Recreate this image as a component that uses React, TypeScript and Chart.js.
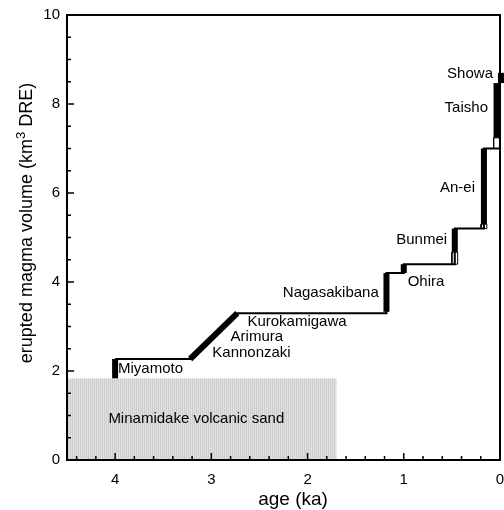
import React, { useEffect, useRef } from 'react';
import { Chart, registerables } from 'chart.js';

Chart.register(...registerables);

// ---- data ----
// black eruption bars (identified eruptions)
const ERUPTION_NAMES = ['Miyamoto', 'Nagasakibana', 'Ohira', 'Bunmei', 'An-ei', 'Taisho', 'Showa'];
const ERUPTION_AGES = [4.0, 1.18, 1.0, 0.47, 0.167, 0.036, -0.01];
const ERUPTION_BOTTOMS = [1.83, 3.33, 4.2, 4.67, 5.3, 7.24, 8.47];
const ERUPTION_TOPS = [2.27, 4.2, 4.4, 5.2, 7.0, 8.47, 8.7];

// open (white) parts of eruption bars
const OPEN_AGES = [0.47, 0.167, 0.036];
const OPEN_BOTTOMS = [4.4, 5.2, 7.0];
const OPEN_TOPS = [4.67, 5.3, 7.24];

// Kannonzaki - Arimura - Kurokamigawa ramp
const RAMP_AGES = [3.22, 2.73];
const RAMP_VOLUMES = [2.27, 3.3];

// cumulative step curve
const STEP_AGES = [4.0, 3.22, 2.73, 1.18, 1.18, 1.0, 1.0, 0.47, 0.47, 0.167, 0.167, 0.0];
const STEP_VOLUMES = [2.27, 2.27, 3.3, 3.3, 4.2, 4.2, 4.4, 4.4, 5.2, 5.2, 7.0, 7.0];

// Minamidake volcanic sand
const SAND_AGES = [4.5, 1.7];
const SAND_VOLUME = 1.83;

// tick labels
const X_TICKS = [4, 3, 2, 1, 0];
const Y_TICKS = [0, 2, 4, 6, 8, 10];

// annotation labels: text, age, volume, alignment
const LABEL_TEXTS = ['Miyamoto', 'Kannonzaki', 'Arimura', 'Kurokamigawa', 'Nagasakibana', 'Ohira', 'Bunmei', 'An-ei', 'Taisho', 'Showa', 'Minamidake volcanic sand'];
const LABEL_AGES = [3.97, 2.99, 2.8, 2.625, 1.26, 0.96, 0.55, 0.26, 0.125, 0.073, 4.07];
const LABEL_VOLUMES = [2.045, 2.4, 2.76, 3.1, 3.75, 4.0, 4.94, 6.11, 7.91, 8.67, 0.92];
const LABEL_ALIGN = ['left', 'left', 'left', 'left', 'right', 'left', 'right', 'right', 'right', 'right', 'left'];

const FONT = '"Liberation Sans", Arial, Helvetica, sans-serif';
const HALF_W = 0.03; // half width of open boxes in ka (style)
const BAR_PX = 6; // black bar width in px (style)

function rect(age: number, lo: number, hi: number) {
  return [
    { x: age + HALF_W, y: lo },
    { x: age - HALF_W, y: lo },
    { x: age - HALF_W, y: hi },
    { x: age + HALF_W, y: hi },
    { x: age + HALF_W, y: lo },
  ];
}

function sandPattern(): CanvasPattern | string {
  const c = document.createElement('canvas');
  c.width = 4;
  c.height = 4;
  const g = c.getContext('2d');
  if (!g) return '#d4d4d4';
  const cols = ['#c9c9c9', '#dedede', '#d2d2d2', '#e2e2e2'];
  for (let i = 0; i < 4; i++) {
    for (let j = 0; j < 4; j++) {
      g.fillStyle = cols[(i * 3 + j * 2) % 4];
      g.fillRect(i, j, 1, 1);
    }
  }
  return g.createPattern(c, 'repeat') || '#d4d4d4';
}

const decor = {
  id: 'decor',
  afterDatasetsDraw(chart: any) {
    const { ctx, chartArea: a, scales } = chart;
    const x = scales.x;
    const y = scales.y;
    ctx.save();
    // frame
    ctx.strokeStyle = '#000';
    ctx.lineWidth = 2;
    ctx.strokeRect(a.left, a.top, a.right - a.left, a.bottom - a.top);
    // inward ticks
    ctx.lineWidth = 1.5;
    ctx.beginPath();
    for (let i = 0; i <= 22; i++) {
      const v = i * 0.2;
      const px = x.getPixelForValue(v);
      const major = i % 5 === 0;
      ctx.moveTo(px, a.bottom);
      ctx.lineTo(px, a.bottom - (major ? 7 : 4));
    }
    for (let i = 0; i <= 20; i++) {
      const v = i * 0.5;
      const py = y.getPixelForValue(v);
      const major = i % 4 === 0;
      ctx.moveTo(a.left, py);
      ctx.lineTo(a.left + (major ? 7 : 4), py);
    }
    ctx.stroke();

    // labels
    ctx.fillStyle = '#000';
    ctx.font = '15px ' + FONT;
    ctx.textBaseline = 'middle';
    LABEL_TEXTS.forEach((t, i) => {
      ctx.textAlign = LABEL_ALIGN[i] as CanvasTextAlign;
      ctx.fillText(t, x.getPixelForValue(LABEL_AGES[i]), y.getPixelForValue(LABEL_VOLUMES[i]));
    });

    // x title
    ctx.font = '19px ' + FONT;
    ctx.textAlign = 'center';
    ctx.fillText('age (ka)', 293, 500);

    // y title with superscript
    ctx.translate(27, 223);
    ctx.rotate(-Math.PI / 2);
    const p1 = 'erupted magma volume (km';
    const p2 = '3';
    const p3 = ' DRE)';
    ctx.font = '18px ' + FONT;
    const w1 = ctx.measureText(p1).width;
    const w3 = ctx.measureText(p3).width;
    ctx.font = '13px ' + FONT;
    const w2 = ctx.measureText(p2).width;
    const total = w1 + w2 + w3;
    let cx = -total / 2;
    ctx.textAlign = 'left';
    ctx.font = '18px ' + FONT;
    ctx.fillText(p1, cx, 0);
    cx += w1;
    ctx.font = '13px ' + FONT;
    ctx.fillText(p2, cx, -6);
    cx += w2;
    ctx.font = '18px ' + FONT;
    ctx.fillText(p3, cx, 0);
    ctx.restore();
  },
};

export default function App() {
  const ref = useRef<HTMLCanvasElement>(null);
  useEffect(() => {
    if (!ref.current) return;
    const datasets: any[] = [];
    // sand
    datasets.push({
      data: [
        { x: SAND_AGES[0], y: 0 },
        { x: SAND_AGES[1], y: 0 },
        { x: SAND_AGES[1], y: SAND_VOLUME },
        { x: SAND_AGES[0], y: SAND_VOLUME },
        { x: SAND_AGES[0], y: 0 },
      ],
      showLine: true,
      fill: 'shape',
      backgroundColor: sandPattern(),
      borderWidth: 0,
      borderColor: 'rgba(0,0,0,0)',
      pointRadius: 0,
    });
    // step line
    datasets.push({
      data: STEP_AGES.map((a, i) => ({ x: a, y: STEP_VOLUMES[i] })),
      showLine: true,
      borderColor: '#000',
      borderWidth: 2,
      pointRadius: 0,
      fill: false,
      clip: false,
    });
    // ramp
    datasets.push({
      data: RAMP_AGES.map((a, i) => ({ x: a, y: RAMP_VOLUMES[i] })),
      showLine: true,
      borderColor: '#000',
      borderWidth: 6,
      borderCapStyle: 'butt',
      pointRadius: 0,
      fill: false,
    });
    // eruption bars (thick vertical strokes)
    ERUPTION_NAMES.forEach((_, i) => {
      datasets.push({
        data: [
          { x: ERUPTION_AGES[i], y: ERUPTION_BOTTOMS[i] },
          { x: ERUPTION_AGES[i], y: ERUPTION_TOPS[i] },
        ],
        showLine: true,
        fill: false,
        borderColor: '#000',
        borderWidth: BAR_PX,
        borderCapStyle: 'butt',
        pointRadius: 0,
        clip: false,
      });
    });
    OPEN_AGES.forEach((_, i) => {
      datasets.push({
        data: rect(OPEN_AGES[i], OPEN_BOTTOMS[i], OPEN_TOPS[i]),
        showLine: true,
        fill: 'shape',
        backgroundColor: '#fff',
        borderColor: '#000',
        borderWidth: 1,
        pointRadius: 0,
        clip: false,
      });
    });

    const chart = new Chart(ref.current, {
      type: 'scatter',
      data: { datasets },
      options: {
        responsive: false,
        animation: false,
        layout: { padding: { top: 15, right: 4, left: 0, bottom: 0 } },
        plugins: { legend: { display: false }, tooltip: { enabled: false } },
        elements: { line: { tension: 0 } },
        scales: {
          x: {
            type: 'linear',
            reverse: true,
            min: 0,
            max: 4.5,
            afterFit: (s: any) => { s.height = 50; s.paddingLeft = 0; s.paddingRight = 0; },
            afterBuildTicks: (s: any) => { s.ticks = X_TICKS.map((v) => ({ value: v })); },
            grid: { display: false, drawTicks: false },
            border: { display: false },
            ticks: { padding: 11, color: '#000', font: { size: 15, family: FONT }, maxRotation: 0 },
          },
          y: {
            type: 'linear',
            min: 0,
            max: 10,
            afterFit: (s: any) => { s.width = 67; s.paddingTop = 0; s.paddingBottom = 0; },
            afterBuildTicks: (s: any) => { s.ticks = Y_TICKS.map((v) => ({ value: v })); },
            grid: { display: false, drawTicks: false },
            border: { display: false },
            ticks: { padding: 7, color: '#000', font: { size: 15, family: FONT } },
          },
        },
      },
      plugins: [decor],
    });
    return () => chart.destroy();
  }, []);
  return (
    <div style={{ position: 'fixed', left: 0, top: 0, width: 504, height: 510, background: '#fff' }}>
      <canvas ref={ref} width={504} height={510} style={{ display: 'block' }} />
    </div>
  );
}
